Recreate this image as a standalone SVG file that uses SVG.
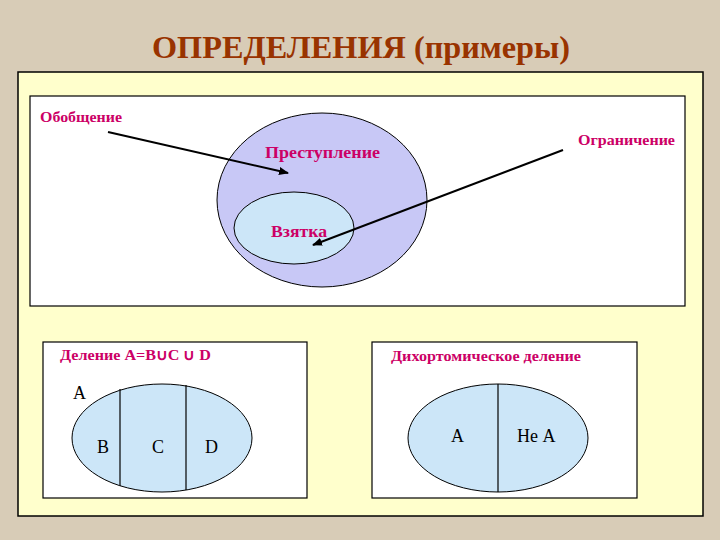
<svg xmlns="http://www.w3.org/2000/svg" width="720" height="540" viewBox="0 0 720 540">
<defs>
<marker id="ah" viewBox="0 0 10 10" refX="9" refY="5" markerWidth="5" markerHeight="5" orient="auto" markerUnits="strokeWidth">
<path d="M0,1 L10,5 L0,9 z" fill="#000"/>
</marker>
<style>
.box{fill:#fff;stroke:#000;stroke-width:1.2}
.lbl{font-family:"Liberation Serif","Times New Roman",serif;font-weight:bold;fill:#cc0066}
.let{font-family:"Liberation Serif","Times New Roman",serif;fill:#000;font-size:18px}
.big{fill:#c8c8f6;stroke:#000;stroke-width:1}
.sm{fill:#cce6f8;stroke:#000;stroke-width:1}
.conn{stroke:#000;stroke-width:2;fill:none;marker-end:url(#ah)}
.div{stroke:#000;stroke-width:1.2}
</style>
</defs>
<rect x="0" y="0" width="720" height="540" fill="#d8ccb7"/>
<text x="152" y="58" font-family="Liberation Serif,Times New Roman,serif" font-size="31" font-weight="bold" fill="#993300" textLength="418" lengthAdjust="spacingAndGlyphs">ОПРЕДЕЛЕНИЯ (примеры)</text>
<rect x="18" y="72" width="685" height="444" fill="#ffffcc" stroke="#000" stroke-width="1.5"/>

<g id="top-box">
<rect class="box" x="30" y="96" width="655" height="210"/>
</g>
<g id="prestuplenie">
<ellipse class="big" cx="322" cy="200" rx="105" ry="87"/>
<text class="lbl" x="265" y="158" font-size="17" textLength="115" lengthAdjust="spacingAndGlyphs">Преступление</text>
</g>
<g id="vzyatka">
<ellipse class="sm" cx="294" cy="228" rx="60" ry="36"/>
<text class="lbl" x="271" y="237" font-size="17" textLength="56" lengthAdjust="spacingAndGlyphs">Взятка</text>
</g>
<g id="obobshchenie">
<text class="lbl" x="40" y="122" font-size="15" textLength="82" lengthAdjust="spacingAndGlyphs">Обобщение</text>
</g>
<g id="ogranichenie">
<text class="lbl" x="578" y="145" font-size="15" textLength="97" lengthAdjust="spacingAndGlyphs">Ограничение</text>
</g>
<g id="connectors">
<line class="conn" x1="108" y1="132" x2="288" y2="173"/>
<line class="conn" x1="563" y1="150" x2="313" y2="245"/>
</g>

<g id="delenie">
<rect class="box" x="43" y="342" width="264" height="156"/>
<text class="lbl" x="60" y="360" font-size="15" textLength="151" lengthAdjust="spacingAndGlyphs">Деление A=B∪C ∪ D</text>
<ellipse class="sm" cx="162" cy="438" rx="90" ry="54"/>
<line class="div" x1="120" y1="389" x2="120" y2="486"/>
<line class="div" x1="186" y1="385" x2="186" y2="490"/>
<text class="let" x="73" y="399">A</text>
<text class="let" x="97" y="453">B</text>
<text class="let" x="152" y="453">C</text>
<text class="let" x="205" y="453">D</text>
</g>

<g id="dihotomiya">
<rect class="box" x="372" y="342" width="265" height="156"/>
<text class="lbl" x="391" y="361" font-size="15" textLength="190" lengthAdjust="spacingAndGlyphs">Дихортомическое деление</text>
<ellipse class="sm" cx="498" cy="438" rx="90" ry="54"/>
<line class="div" x1="498" y1="384" x2="498" y2="492"/>
<text class="let" x="451" y="442">A</text>
<text class="let" x="517" y="442">Не A</text>
</g>
</svg>
